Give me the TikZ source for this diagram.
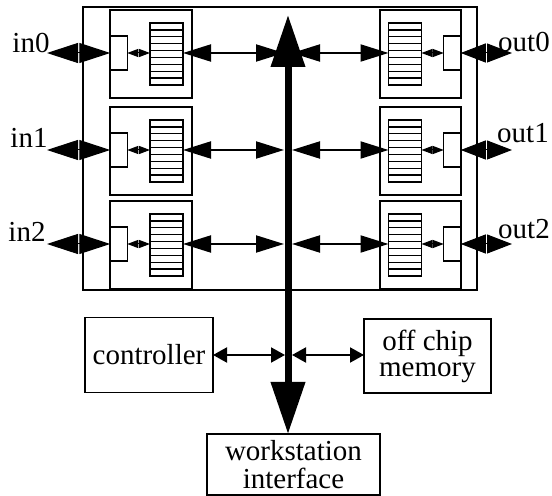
\documentclass[tikz,border=0pt]{standalone}
\usepackage{fontspec}
\setmainfont{Liberation Serif}
\usetikzlibrary{arrows.meta,calc}
\tikzset{
  box/.style={draw,line width=0.8pt,inner sep=0pt,outer sep=0pt},
  module/.style={box,minimum width=41pt,minimum height=44pt},
  smallrect/.style={box,line width=0.7pt,minimum width=8.5pt,minimum height=17pt},
  fifo/.style={box,line width=0.7pt,minimum width=16.5pt,minimum height=31pt},
  textbox/.style={box,align=center,font=\fontsize{14.5}{13}\selectfont},
  lbl/.style={font=\fontsize{14.5}{15}\selectfont,inner sep=0pt},
  bigdiaL/.style={line width=0.5pt,{Triangle[length=15.5pt,width=10pt]}-{Triangle[length=15.5pt,width=10pt]}},
  bigdiaR/.style={line width=0.5pt,{Triangle[length=12.5pt,width=9.5pt]}-{Triangle[length=12.5pt,width=9.5pt]}},
  smalldia/.style={line width=0.5pt,{Triangle[length=5.5pt,width=4pt]}-{Triangle[length=5.5pt,width=4pt]}},
  rowarrow/.style={line width=1pt,{Triangle[length=14pt,width=8.5pt]}-{Triangle[length=14pt,width=8.5pt]}},
  botarrow/.style={line width=1pt,{Triangle[length=7pt,width=7.5pt]}-{Triangle[length=7pt,width=7.5pt]}},
  busarrow/.style={line width=3.5pt,{Triangle[length=26pt,width=16.5pt]}-{Triangle[length=26pt,width=16.5pt]}}
}
\begin{document}
\begin{tikzpicture}[x=0.5pt,y=-0.5pt]
\useasboundingbox (0,0) rectangle (552,496);
% outer chip box
\node[box,minimum width=197pt,minimum height=141.5pt] (chip) at (280,148.5) {};
% rows
\foreach \i/\r in {0/53,1/150,2/244}{
  \node[module] (lm\i) at (151,\r+1) {};
  \node[module,minimum width=40.5pt] (rm\i) at (420.5,\r+1) {};
  \node[smallrect] (ls\i) at (118.75,\r) {};
  \node[smallrect] (rs\i) at (452.25,\r) {};
  \node[fifo] (lf\i) at (166.5,\r+1) {};
  \node[fifo] (rf\i) at (405,\r+1) {};
  \foreach \k in {1,...,8}{
    \draw[line width=0.7pt] ($(lf\i.north west)!\k/9!(lf\i.south west)$) -- ($(lf\i.north east)!\k/9!(lf\i.south east)$);
    \draw[line width=0.7pt] ($(rf\i.north west)!\k/9!(rf\i.south west)$) -- ($(rf\i.north east)!\k/9!(rf\i.south east)$);
  }
  \coordinate (inend\i) at (47,\r);
  \coordinate (outend\i) at (512,\r);
  \coordinate (busL\i) at (284,\r);
  \coordinate (busR\i) at (292,\r);
  \draw[bigdiaL] (inend\i) -- (ls\i.west);
  \draw[bigdiaR] (rs\i.east) -- (outend\i);
  \draw[smalldia] (ls\i.east) -- (lf\i.west |- ls\i.east);
  \draw[smalldia] (rf\i.east |- rs\i.west) -- (rs\i.west);
  \draw[rowarrow] (lf\i.east |- busL\i) -- (busL\i);
  \draw[rowarrow] (busR\i) -- (rf\i.west |- busR\i);
}
% labels
\node[lbl] (in0) at (31,43) {in0};
\node[lbl] (in1) at (29,138) {in1};
\node[lbl] (in2) at (27,232) {in2};
\node[lbl] (out0) at (524,42) {out0};
\node[lbl] (out1) at (523,133) {out1};
\node[lbl] (out2) at (524,229) {out2};
% bottom boxes
\node[textbox,minimum width=64pt,minimum height=37.5pt] (ctrl) at (149,355) {controller};
\node[textbox,minimum width=63.5pt,minimum height=37pt,font=\fontsize{14.5}{13}\selectfont] (mem) at (427.5,356) {off chip\\memory};
\node[textbox,minimum width=86.5pt,minimum height=30.5pt,font=\fontsize{14.5}{14}\selectfont] (ws) at (293.5,464.5) {workstation\\interface};
% bus
\coordinate (bustop) at (288,15);
\coordinate (bcl) at (285,355);
\coordinate (bcr) at (292,355);
\draw[busarrow] (bustop |- ws.north) -- (bustop);
\draw[botarrow] (ctrl.east) -- (bcl);
\draw[botarrow] (bcr) -- (mem.west |- bcr);
\end{tikzpicture}
\end{document}
